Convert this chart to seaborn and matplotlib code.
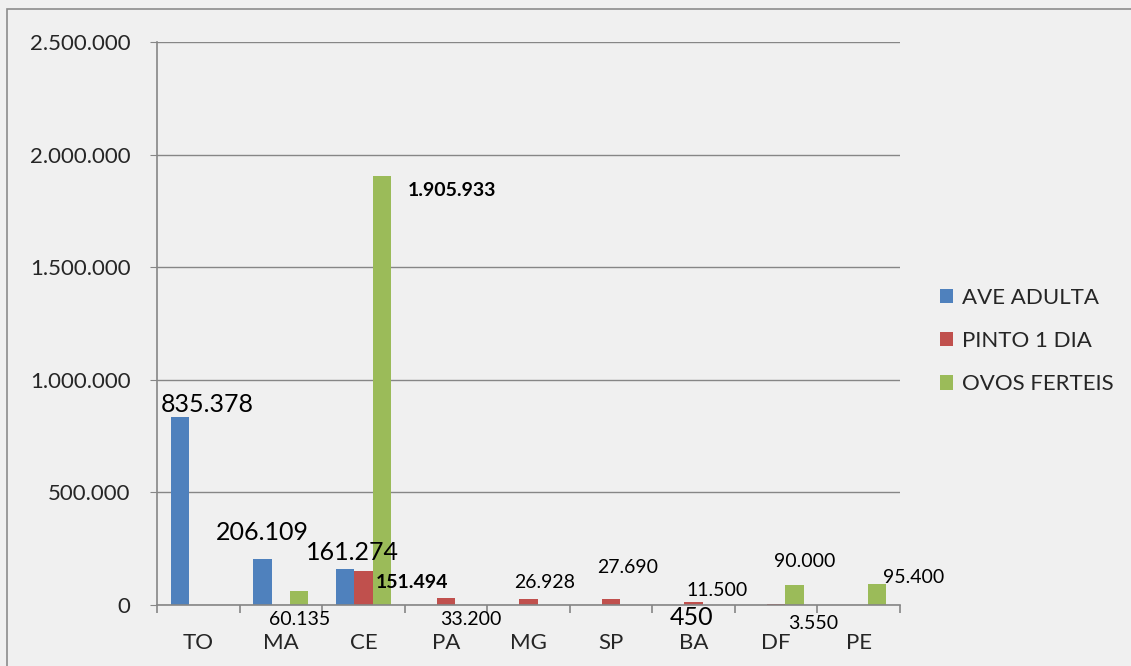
import pandas as pd
import matplotlib
matplotlib.use("Agg")
import matplotlib.pyplot as plt
import seaborn as sns
from matplotlib.patches import Patch
from matplotlib.lines import Line2D
from matplotlib.ticker import FuncFormatter, FixedLocator

# dados do gráfico
estados = ['TO', 'MA', 'CE', 'PA', 'MG', 'SP', 'BA', 'DF', 'PE']
ave_adulta = [835378, 206109, 161274, 0, 0, 0, 450, 0, 0]
pinto_1_dia = [0, 0, 151494, 33200, 26928, 27690, 11500, 3550, 0]
ovos_ferteis = [0, 60135, 1905933, 0, 0, 0, 0, 90000, 95400]
series = ['AVE ADULTA', 'PINTO 1 DIA', 'OVOS FERTEIS']
cores = ['#4F81BD', '#C0504D', '#9BBB59']

df = pd.DataFrame({'estado': estados * 3,
                   'serie': [s for s in series for _ in estados],
                   'valor': ave_adulta + pinto_1_dia + ovos_ferteis})

def fmt(v, pos=None):
    return f"{v:,.0f}".replace(",", ".")

sns.set_style("white")
plt.rcParams['font.family'] = ['Lato', 'DejaVu Sans']

bg = '#F0F0F0'
fig = plt.figure(figsize=(11.31, 6.66), dpi=100, facecolor=bg, edgecolor=bg, linewidth=0)
ax = fig.add_axes([157/1131, 1 - 605/666, 743/1131, 563/666])
ax.set_facecolor(bg)

largura = 0.667
sns.barplot(data=df, x='estado', y='valor', hue='serie', hue_order=series,
            palette=cores, width=largura, linewidth=0, saturation=1,
            legend=False, ax=ax)

ax.set_ylim(0, 2500000)
ax.set_xlim(-0.5, len(estados) - 0.5)
ax.set_yticks(range(0, 2500001, 500000))
ax.yaxis.set_major_formatter(FuncFormatter(fmt))
ax.grid(axis='y', color='#868686', linewidth=1)
ax.set_axisbelow(True)
ax.set_xlabel('')
ax.set_ylabel('')
for s in ['top', 'right']:
    ax.spines[s].set_visible(False)
for s in ['left', 'bottom']:
    ax.spines[s].set_color('#868686')
    ax.spines[s].set_linewidth(1.2)

ax.tick_params(axis='y', labelsize=16, length=5, color='#868686', pad=14, direction='out', left=True)
ax.tick_params(axis='x', which='major', labelsize=16, length=0, pad=20)
ax.xaxis.set_minor_locator(FixedLocator([i - 0.5 for i in range(len(estados) + 1)]))
ax.tick_params(axis='x', which='minor', length=6, width=1.2, color='#868686', bottom=True, direction='out')

# rótulos de dados: (estado, série, dx px, dy px, tamanho, negrito)
rotulos = [
    ('TO', 0, 27, 12, 18, False),
    ('MA', 0, 0, 26, 18, False),
    ('MA', 2, 0, -28, 14, False),
    ('CE', 0, 7, 16, 18, False),
    ('CE', 1, 49, -12, 14, True),
    ('CE', 2, 70, -15, 14, True),
    ('PA', 1, 25, -22, 14, False),
    ('MG', 1, 16, 16, 14, False),
    ('SP', 1, 17, 31, 14, False),
    ('BA', 0, 16, -13, 18, False),
    ('BA', 1, 23, 12, 14, False),
    ('DF', 1, 37, -19, 14, False),
    ('DF', 2, 10, 23, 14, False),
    ('PE', 2, 37, 6, 14, False),
]
valores = [ave_adulta, pinto_1_dia, ovos_ferteis]
bw = largura / 3
for est, j, dx, dy, tam, negrito in rotulos:
    i = estados.index(est)
    v = valores[j][i]
    x = i + (j - 1) * bw
    ax.annotate(fmt(v), xy=(x, v), xytext=(dx, dy), textcoords='offset pixels',
                ha='center', va='center', fontsize=tam,
                fontweight='bold' if negrito else 'normal', color='black',
                annotation_clip=False)

handles = [Patch(facecolor=c, edgecolor='none', label=s) for s, c in zip(series, cores)]
fig.legend(handles=handles, loc='center left', bbox_to_anchor=(940/1131, 1 - 341/666),
           frameon=False, fontsize=16, handlelength=0.6, handleheight=0.6,
           handletextpad=0.4, labelspacing=1.05, borderaxespad=0, borderpad=0)

# moldura externa (só esquerda e topo aparecem)
x0, y0 = 7/1131, 1 - 9/666
fig.add_artist(Line2D([x0, x0, 1.0], [0, y0, y0], transform=fig.transFigure,
                      color='#8C8C8C', lw=1.2, solid_joinstyle='miter'))

fig.savefig('out.png', dpi=100, facecolor=bg, edgecolor=bg)
